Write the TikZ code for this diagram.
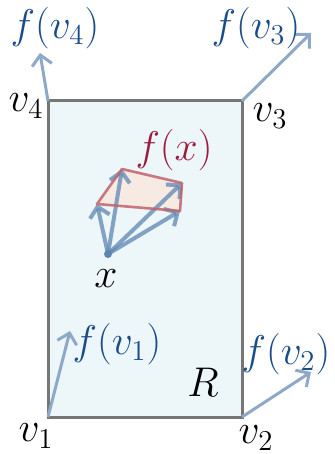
\documentclass[tikz,border=0pt]{standalone}
\usetikzlibrary{positioning,arrows.meta}
\definecolor{vecblue}{HTML}{8EA8C8}
\definecolor{innerblue}{HTML}{5F86B3}
\definecolor{labelblue}{HTML}{1B4C8A}
\definecolor{boxfill}{HTML}{EDF6F9}
\definecolor{boxline}{HTML}{767676}
\definecolor{fxred}{HTML}{9A1D3E}
\definecolor{quadfill}{HTML}{F6EAE3}
\definecolor{quadline}{HTML}{C0646C}

\begin{document}
\begin{tikzpicture}[x=0.5pt, y=-0.5pt, font=\fontsize{20}{24}\selectfont,
    every node/.style={inner sep=1pt},
    vec/.style={vecblue, line width=1.5pt, -{Straight Barb[length=5pt, width=10pt, line width=1.5pt]}},
    innervec/.style={innerblue, opacity=0.75, line width=2pt, -{Straight Barb[length=5pt, width=10pt, line width=2pt]}},
    vlabel/.style={text=labelblue}]
    \useasboundingbox (0,0) rectangle (334,454);
    % corners of R
    \coordinate (v1) at (48,417);
    \coordinate (v2) at (242,417);
    \coordinate (v3) at (242,101);
    \coordinate (v4) at (48,101);
    \filldraw[fill=boxfill, draw=boxline, line width=1.5pt] (v1) -- (v2) -- (v3) -- (v4) -- cycle;
    % images of the corners
    \coordinate (fv1) at (70,331);
    \coordinate (fv2) at (311,372);
    \coordinate (fv3) at (311,33);
    \coordinate (fv4) at (40,53);
    \draw[vec] (v1) -- (fv1);
    \draw[vec] (v2) -- (fv2);
    \draw[vec] (v3) -- (fv3);
    \draw[vec] (v4) -- (fv4);
    % the interpolated quad
    \coordinate (x) at (108,254);
    \coordinate (q1) at (97,204);
    \coordinate (q2) at (122,169);
    \coordinate (q3) at (182,183);
    \coordinate (q4) at (180,211);
    \fill[quadfill] (q1) -- (q2) -- (q3) -- (q4) -- cycle;
    \draw[innervec] (x) -- (q1);
    \draw[innervec] (x) -- (q2);
    \draw[innervec] (x) -- (q3);
    \draw[innervec] (x) -- (q4);
    \draw[quadline, opacity=0.85, line width=1.3pt, line join=round] (q1) -- (q2) -- (q3) -- (q4) -- cycle;
    \fill[innerblue] (x) circle (4);
    % labels
    \node (lv1) at (36,436) {$v_1$};
    \node (lv2) at (256,438) {$v_2$};
    \node (lv3) at (270,116) {$v_3$};
    \node (lv4) at (26,106) {$v_4$};
    \node[vlabel] (lfv1) at (117,344) {$f(v_1)$};
    \node[vlabel] (lfv2) at (286,354) {$f(v_2)$};
    \node[vlabel] (lfv3) at (256,28) {$f(v_3)$};
    \node[vlabel] (lfv4) at (55,28) {$f(v_4)$};
    \node[text=fxred] (lfx) at (174,150) {$f(x)$};
    \node (lx) at (106,279) {$x$};
    \node (lR) at (203,382) {$R$};
\end{tikzpicture}
\end{document}
